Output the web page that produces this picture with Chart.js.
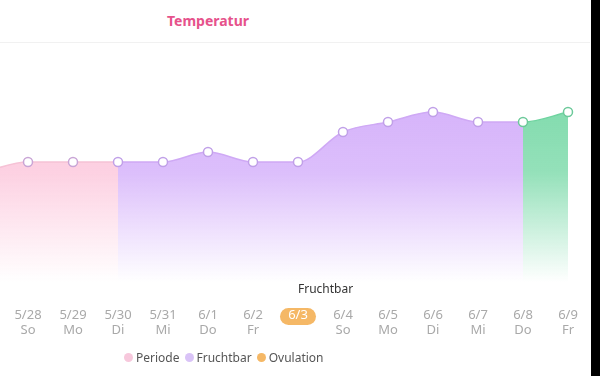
<!DOCTYPE html>
<html>
<head>
<meta charset="utf-8">
<script src="https://cdn.jsdelivr.net/npm/chart.js@4/dist/chart.umd.min.js"></script>
<style>
    html, body { margin: 0; padding: 0; background: #fff; }
    body { width: 600px; height: 376px; position: relative; overflow: hidden; font-family: "Noto Sans", sans-serif; }
    .title { position: absolute; left: 1px; width: 414px; top: 11px; text-align: center; font-size: 14px; font-weight: bold; color: #e6528b; }
    .divider { position: absolute; left: 0; width: 590px; top: 42px; height: 1px; background: #f1f1f1; }
    .edge { position: absolute; left: 591px; top: 0; width: 9px; height: 376px; background: #000; }
    .chart-box { position: absolute; left: 0; top: 45px; width: 590px; height: 331px; }
    .legend { position: absolute; left: 124px; top: 349px; display: flex; align-items: center; font-size: 12px; color: #555; }
    .legend span.dot { display: inline-block; width: 9px; height: 9px; border-radius: 50%; margin-right: 3px; }
    .legend .item { display: flex; align-items: center; margin-right: 5px; }
</style>
</head>
<body>
<div class="title">Temperatur</div>
<div class="divider"></div>
<div class="chart-box"><canvas id="tempChart" width="590" height="331"></canvas></div>
<div class="legend" id="legend"></div>
<div class="edge"></div>

<script>
// first entry (5/27) sits just off the left edge
const dates = ["5/27", "5/28", "5/29", "5/30", "5/31", "6/1", "6/2", "6/3", "6/4", "6/5", "6/6", "6/7", "6/8", "6/9"];
const weekdays = ["Sa", "So", "Mo", "Di", "Mi", "Do", "Fr", "Sa", "So", "Mo", "Di", "Mi", "Do", "Fr"];
const temps = [36.2, 36.3, 36.3, 36.3, 36.3, 36.4, 36.3, 36.3, 36.6, 36.7, 36.8, 36.7, 36.7, 36.8];
const phases = ["periode", "periode", "periode", "fruchtbar", "fruchtbar", "fruchtbar", "fruchtbar",
    "fruchtbar", "fruchtbar", "fruchtbar", "fruchtbar", "fruchtbar", "luteal", "luteal"];
const todayIndex = 7;
const todayStatus = "Fruchtbar";

const legendItems = [
    { label: "Periode", color: "#f7c8dc" },
    { label: "Fruchtbar", color: "#d9c3f7" },
    { label: "Ovulation", color: "#f5b866" }
];

const phaseStyle = {
    periode:   { line: "#f6c2d6", point: "#c9a5d6", fill: "252,196,218" },
    fruchtbar: { line: "#cfa9f5", point: "#c0a0e8", fill: "210,172,250" },
    luteal:    { line: "#6fd4a0", point: "#6cc99a", fill: "118,216,166" }
};

const gradients = {};

function fillFor(chart, phase) {
    const area = chart.chartArea;
    const rgb = phaseStyle[phase].fill;
    if (!area) return "rgba(" + rgb + ",0.6)";
    const key = phase + area.top + "_" + area.bottom;
    if (!gradients[key]) {
        const g = chart.ctx.createLinearGradient(0, area.top, 0, area.bottom);
        g.addColorStop(0, "rgba(" + rgb + ",1)");
        g.addColorStop(0.5, "rgba(" + rgb + ",0.78)");
        g.addColorStop(1, "rgba(" + rgb + ",0)");
        gradients[key] = g;
    }
    return gradients[key];
}

const todayPill = {
    id: "todayPill",
    beforeDraw(chart) {
        const x = chart.scales.x.getPixelForValue(todayIndex);
        const top = chart.chartArea.bottom + 26;
        const ctx = chart.ctx;
        ctx.save();
        ctx.fillStyle = "#f5b866";
        ctx.beginPath();
        ctx.roundRect(x - 18, top, 36, 17, 8.5);
        ctx.fill();
        ctx.restore();
    },
    afterDatasetsDraw(chart) {
        const x = chart.scales.x.getPixelForValue(todayIndex);
        const ctx = chart.ctx;
        ctx.save();
        ctx.font = "12px 'Noto Sans'";
        ctx.fillStyle = "#333";
        ctx.textAlign = "left";
        ctx.textBaseline = "middle";
        ctx.fillText(todayStatus, x, chart.chartArea.bottom + 7);
        ctx.restore();
    }
};

document.addEventListener("DOMContentLoaded", function () {
    const legend = document.getElementById("legend");
    legendItems.forEach(item => {
        const el = document.createElement("div");
        el.className = "item";
        el.innerHTML = '<span class="dot" style="background:' + item.color + '"></span>' + item.label;
        legend.appendChild(el);
    });

    const ctx = document.getElementById("tempChart");

    new Chart(ctx, {
        type: "line",
        data: {
            datasets: [{
                data: temps.map((t, i) => ({ x: i, y: t })),
                fill: "start",
                borderWidth: 1.5,
                cubicInterpolationMode: "monotone",
                pointRadius: 4.5,
                pointBorderWidth: 1.5,
                pointBackgroundColor: "#fff",
                pointBorderColor: c => phaseStyle[phases[c.dataIndex]].point,
                segment: {
                    borderColor: c => phaseStyle[phases[c.p0DataIndex]].line,
                    backgroundColor: c => fillFor(c.chart, phases[c.p0DataIndex])
                }
            }]
        },
        options: {
            responsive: false,
            animation: false,
            layout: { autoPadding: false, padding: { top: 17, bottom: 12, left: 0, right: 0 } },
            plugins: {
                legend: { display: false },
                tooltip: { enabled: false }
            },
            scales: {
                x: {
                    type: "linear",
                    min: 1 - 28 / 45,
                    max: 1 - 28 / 45 + 590 / 45,
                    grid: { display: false, drawTicks: false },
                    border: { display: false },
                    afterBuildTicks: axis => {
                        axis.ticks = dates.slice(1).map((d, i) => ({ value: i + 1 }));
                    },
                    afterFit: axis => {
                        axis.paddingLeft = 0;
                        axis.paddingRight = 0;
                    },
                    ticks: {
                        padding: 26,
                        maxRotation: 0,
                        autoSkip: false,
                        font: { family: "Noto Sans", size: 13, lineHeight: 1.15 },
                        color: c => (c.tick && c.tick.value === todayIndex) ? "#fff" : "#a9a9a9",
                        callback: value => [dates[value], weekdays[value]]
                    }
                },
                y: {
                    display: false,
                    min: 35.1,
                    max: 37.3
                }
            }
        },
        plugins: [todayPill]
    });
});
</script>
</body>
</html>
